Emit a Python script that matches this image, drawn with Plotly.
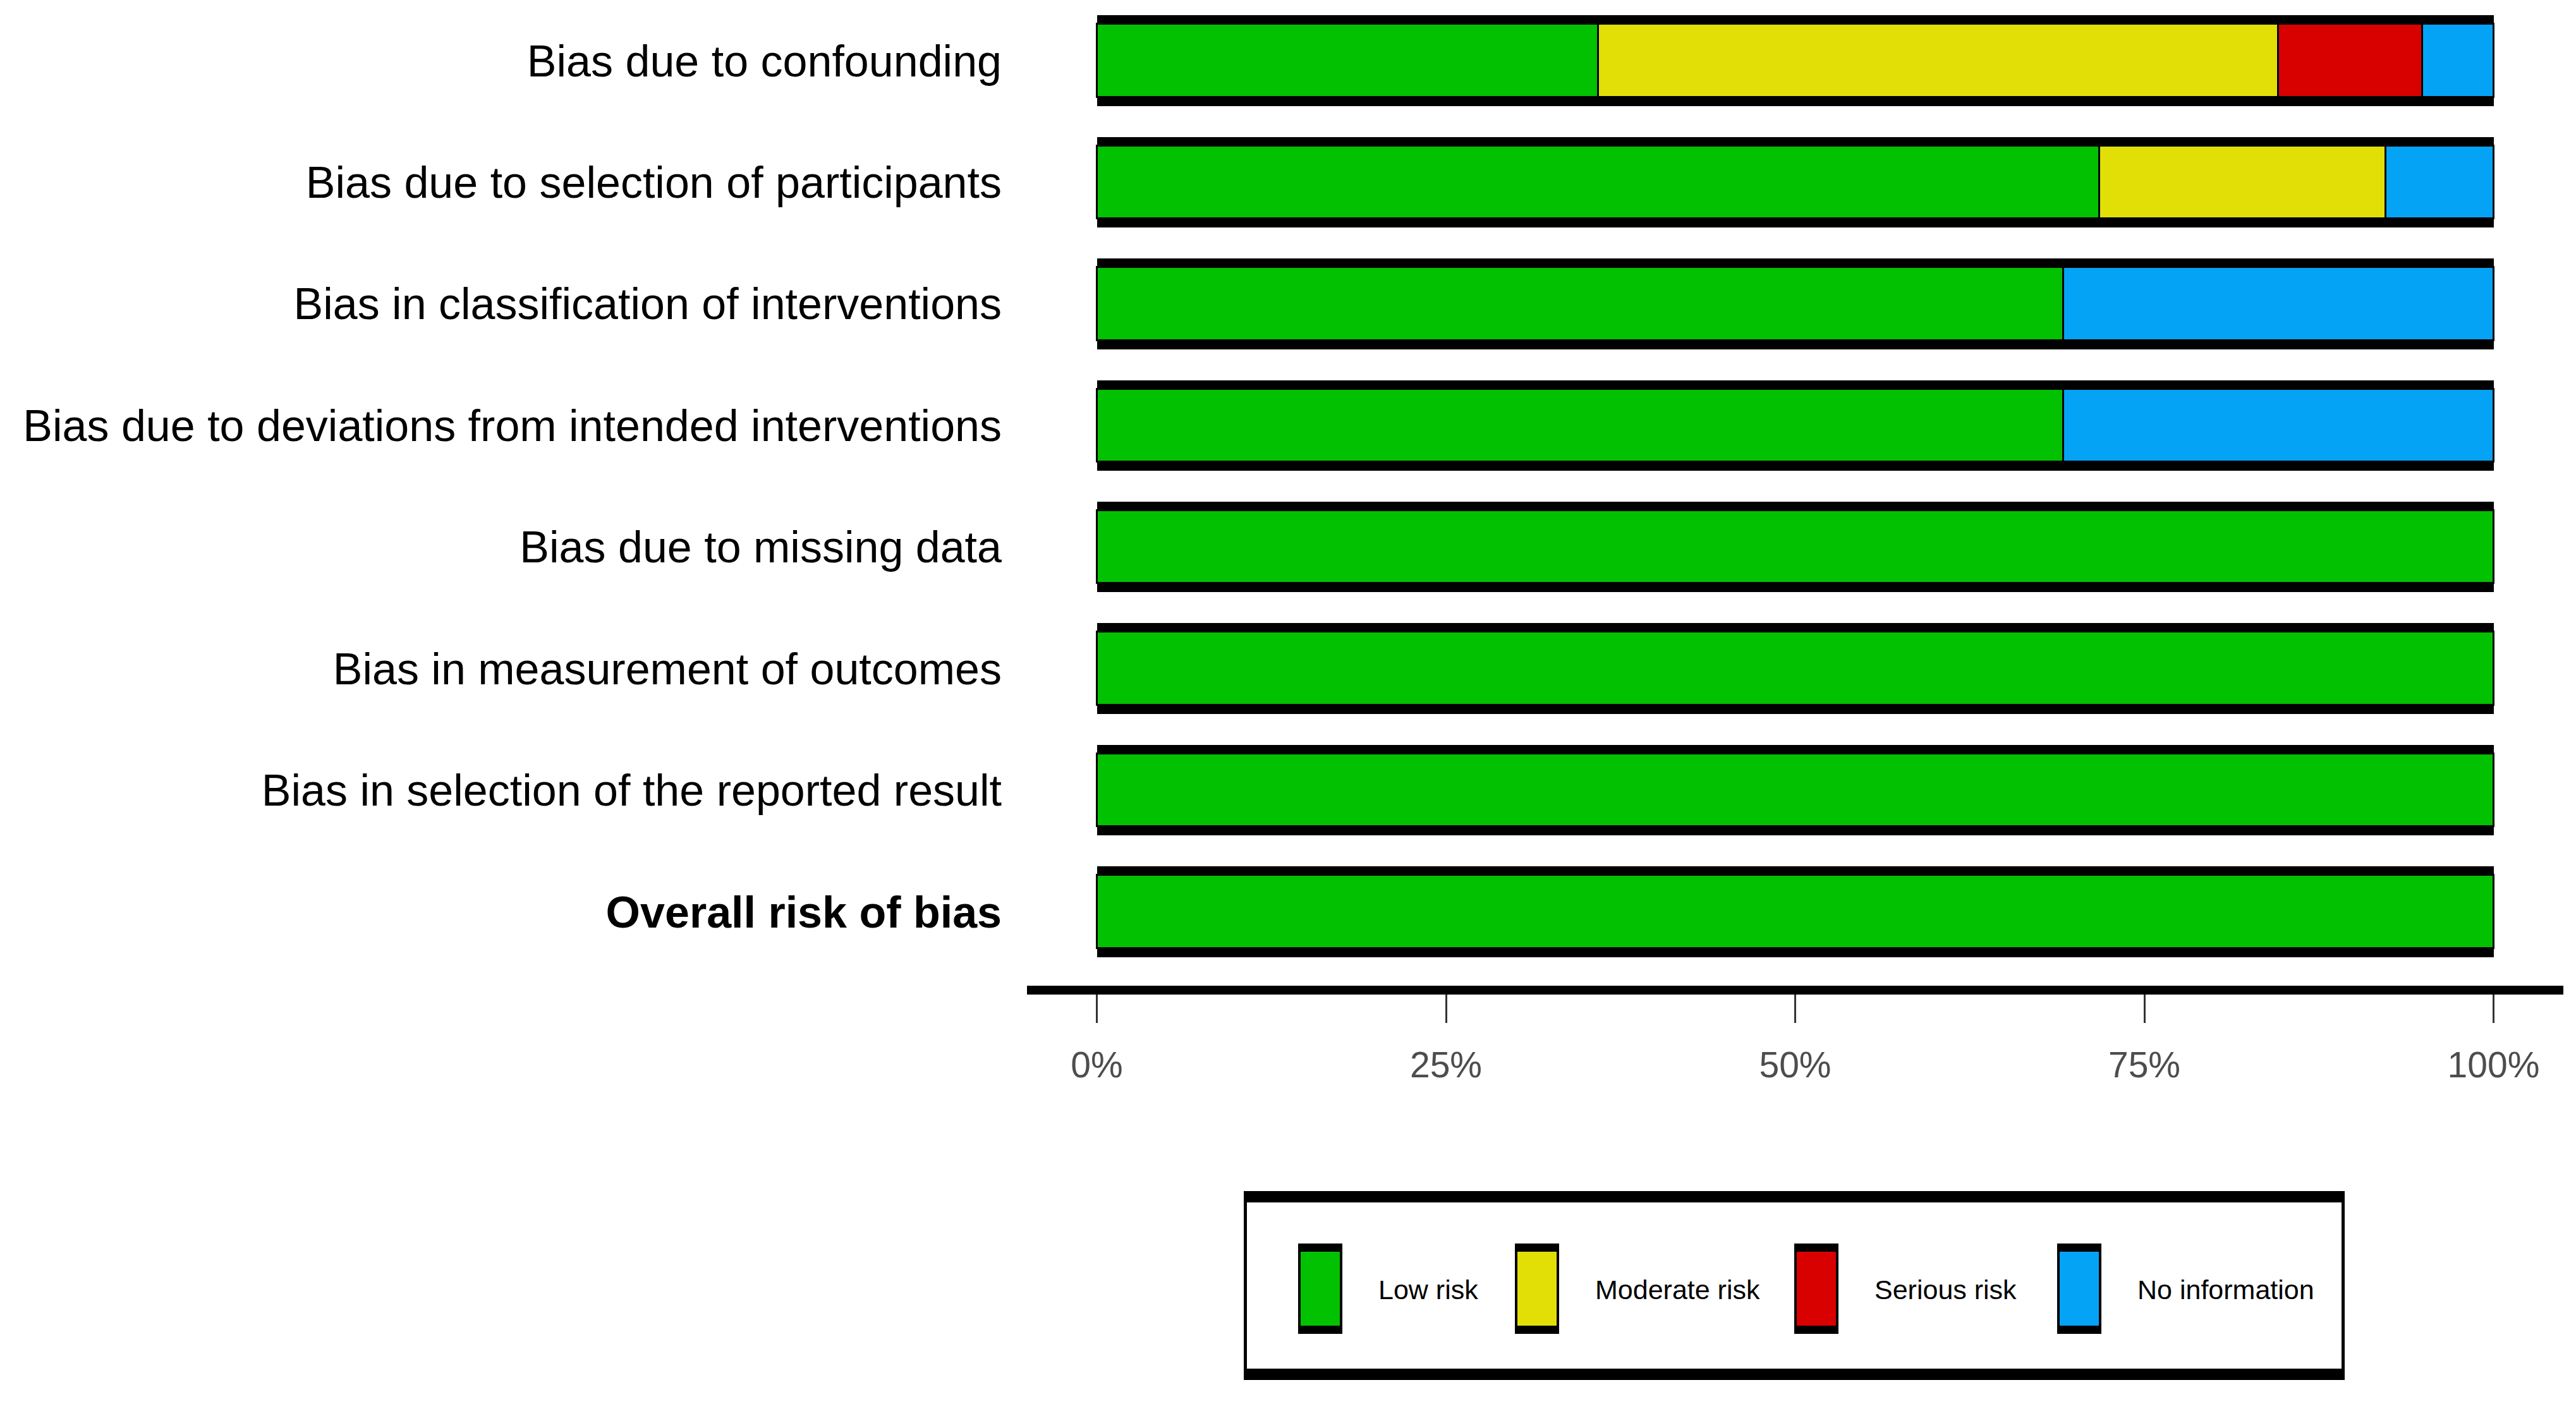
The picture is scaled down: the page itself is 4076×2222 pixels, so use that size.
import numpy as np
import plotly.graph_objects as go

# ---------------- data ----------------
domains = [
    "Bias due to confounding",
    "Bias due to selection of participants",
    "Bias in classification of interventions",
    "Bias due to deviations from intended interventions",
    "Bias due to missing data",
    "Bias in measurement of outcomes",
    "Bias in selection of the reported result",
    "<b>Overall risk of bias</b>",
]
low_risk = [35.9, 71.8, 69.2, 69.2, 100, 100, 100, 100]
moderate_risk = [48.7, 20.5, 0, 0, 0, 0, 0, 0]
serious_risk = [10.3, 0, 0, 0, 0, 0, 0, 0]
no_information = [5.1, 7.7, 30.8, 30.8, 0, 0, 0, 0]

x_ticks = [0, 25, 50, 75, 100]
x_tick_labels = ["0%", "25%", "50%", "75%", "100%"]

legend_labels = ["Low risk", "Moderate risk", "Serious risk", "No information"]
colors = ["#02C100", "#E2DF07", "#D90000", "#05A3F5"]

# ---------------- layout geometry ----------------
W, H = 4076, 2222
ML, MR, MT, MB = 1625, 20, 0, 662
PW, PH = W - ML - MR, H - MT - MB
FONT = "Liberation Sans, Arial, Helvetica, sans-serif"


def px(x):
    return (x - ML) / PW


def py(y):
    return 1 - (y - MT) / PH


series = [low_risk, moderate_risk, serious_risk, no_information]
vals = np.array(series, dtype=float)
bases = np.vstack([np.zeros(vals.shape[1]), np.cumsum(vals, axis=0)[:-1]])

fig = go.Figure()

# black frame behind each row (thick top/bottom border look)
fig.add_trace(go.Bar(
    y=domains, x=[100] * len(domains), base=[0] * len(domains),
    orientation="h", width=0.745,
    marker=dict(color="black", line=dict(width=0)),
    showlegend=False, hoverinfo="skip",
))

for name, v, b, c in zip(legend_labels, vals, bases, colors):
    xv = [val if val > 0 else None for val in v]
    fig.add_trace(go.Bar(
        y=domains, x=xv, base=list(b), name=name,
        orientation="h", width=0.60,
        marker=dict(color=c, line=dict(color="black", width=3)),
        showlegend=False,
    ))

# ---------------- custom legend ----------------
shapes = []
annotations = []
box = (1968, 1885, 3710, 2184)
shapes.append(dict(type="rect", xref="paper", yref="paper",
                   x0=px(box[0]), x1=px(box[2]), y0=py(box[3]), y1=py(box[1]),
                   fillcolor="black", line=dict(width=0), layer="above"))
shapes.append(dict(type="rect", xref="paper", yref="paper",
                   x0=px(box[0] + 5), x1=px(box[2] - 5), y0=py(box[3] - 18), y1=py(box[1] + 18),
                   fillcolor="white", line=dict(width=0), layer="above"))
sw_x = [2054, 2397, 2839, 3255]
tx_x = [2179, 2522, 2964, 3380]
sw_top, sw_bot = 1968, 2111
for lab, c, sx, tx in zip(legend_labels, colors, sw_x, tx_x):
    shapes.append(dict(type="rect", xref="paper", yref="paper",
                       x0=px(sx), x1=px(sx + 70), y0=py(sw_bot), y1=py(sw_top),
                       fillcolor="black", line=dict(width=0), layer="above"))
    shapes.append(dict(type="rect", xref="paper", yref="paper",
                       x0=px(sx + 4), x1=px(sx + 66), y0=py(sw_bot - 13), y1=py(sw_top + 13),
                       fillcolor=c, line=dict(width=0), layer="above"))
    annotations.append(dict(text=lab, xref="paper", yref="paper",
                            x=px(tx), y=py(2041), xanchor="left", yanchor="middle",
                            showarrow=False, font=dict(family=FONT, size=43, color="black")))

fig.update_layout(
    width=W, height=H, autosize=False,
    margin=dict(l=ML, r=MR, t=MT, b=MB, pad=0, autoexpand=False),
    paper_bgcolor="white", plot_bgcolor="white",
    barmode="overlay", bargap=0,
    font=dict(family=FONT, color="black"),
    shapes=shapes, annotations=annotations,
    showlegend=False,
)
fig.update_xaxes(
    range=[-5, 105], tickvals=x_ticks, ticktext=x_tick_labels,
    showgrid=False, zeroline=False, automargin=False,
    showline=True, linecolor="black", linewidth=14,
    ticks="outside", ticklen=45, tickwidth=3, tickcolor="#333333",
    tickfont=dict(family=FONT, size=57, color="#4D4D4D"),
    ticklabelstandoff=18,
)
fig.update_yaxes(
    type="category", categoryorder="array", categoryarray=domains,
    range=[7.608, -0.499], automargin=False,
    showgrid=False, zeroline=False, showline=False, ticks="",
    tickfont=dict(family=FONT, size=70, color="black"),
    ticklabelstandoff=39,
)

fig.write_html("out.html", config={"displayModeBar": False},
               post_script="document.body.style.margin='0';")
